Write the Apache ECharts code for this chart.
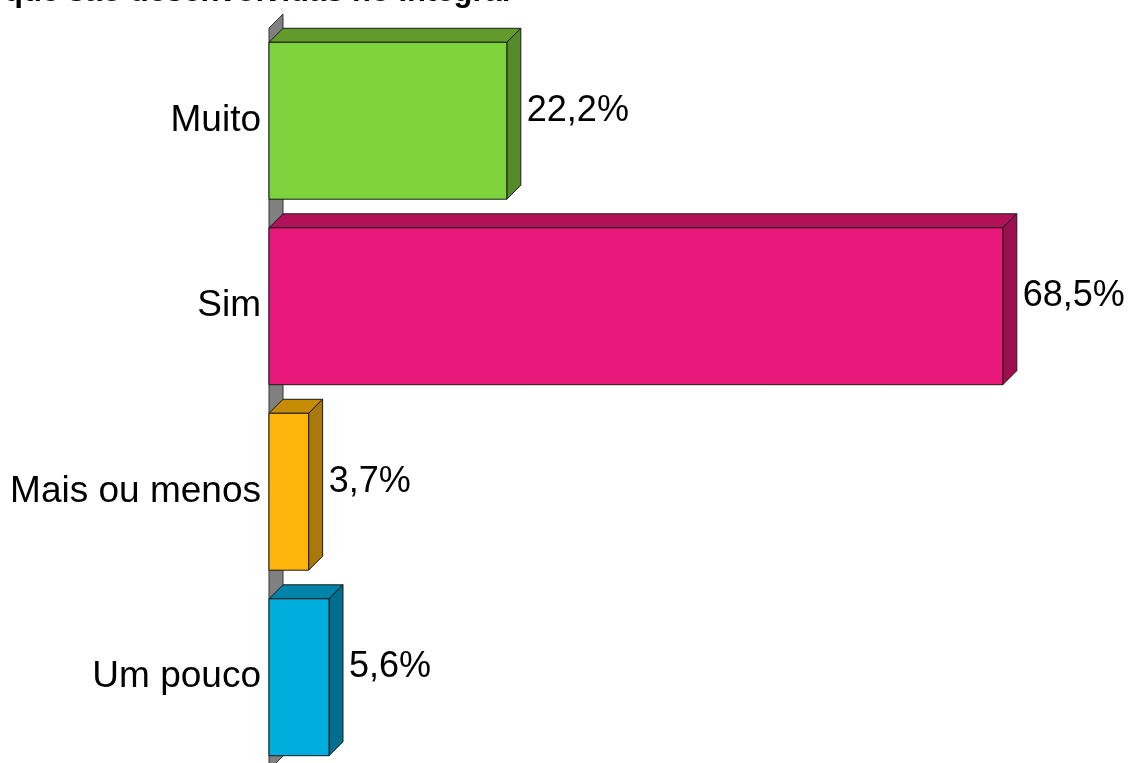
<!DOCTYPE html>
<html>
<head>
<meta charset="utf-8">
<script src="https://cdn.jsdelivr.net/npm/echarts@6/dist/echarts.min.js"></script>
<style>
html,body{margin:0;padding:0;background:#fff;}
#chart{width:1131px;height:763px;}
</style>
</head>
<body>
<div id="chart"></div>
<script>
const titleText = 'que são desenvolvidas no Integral';
const categories = ['Muito', 'Sim', 'Mais ou menos', 'Um pouco'];
const values = [22.2, 68.5, 3.7, 5.6];
const valueLabels = ['22,2%', '68,5%', '3,7%', '5,6%'];
const frontColors = ['#7ED23C', '#E8197A', '#FFB50C', '#00AEDD'];
const topColors = ['#629B2C', '#B01159', '#C58B03', '#0083A8'];
const sideColors = ['#558A2A', '#9E0F50', '#A97A0B', '#006F8E'];

const DEPTH = 14;
const FONT = 'Liberation Sans, Arial, sans-serif';

const chart = echarts.init(document.getElementById('chart'));

function renderBar(params, api) {
  const idx = api.value(1);
  const v = api.value(0);
  const p0 = api.coord([0, idx]);
  const p1 = api.coord([v, idx]);
  const band = api.size([0, 1])[1];
  const h = band * 0.846;
  const x0 = p0[0], x1 = p1[0];
  const y0 = p0[1] - h / 2;
  const d = DEPTH;
  const i = params.dataIndex;
  const stroke = { stroke: '#1a1a1a', lineWidth: 1 };
  return {
    type: 'group',
    children: [
      { type: 'polygon', shape: { points: [[x0, y0], [x0 + d, y0 - d], [x1 + d, y0 - d], [x1, y0]] },
        style: Object.assign({ fill: topColors[i] }, stroke) },
      { type: 'polygon', shape: { points: [[x1, y0], [x1 + d, y0 - d], [x1 + d, y0 + h - d], [x1, y0 + h]] },
        style: Object.assign({ fill: sideColors[i] }, stroke) },
      { type: 'rect', shape: { x: x0, y: y0, width: x1 - x0, height: h },
        style: Object.assign({ fill: frontColors[i] }, stroke) },
      { type: 'text', x: x1 + d + 6, y: p0[1] - 10,
        style: { text: valueLabels[i], fill: '#000', font: '36px ' + FONT, verticalAlign: 'middle', align: 'left' } }
    ]
  };
}

function renderWall(params, api) {
  const cs = params.coordSys;
  const d = DEPTH;
  const x = cs.x, y = cs.y, hh = cs.height;
  return {
    type: 'polygon',
    shape: { points: [[x, y], [x + d, y - d], [x + d, y + hh - d], [x, y + hh]] },
    style: { fill: '#808080', stroke: '#333', lineWidth: 1 }
  };
}

const option = {
  animation: false,
  backgroundColor: '#fff',
  graphic: [
    { type: 'text', left: 4, top: -23,
      style: { text: titleText, fill: '#000', font: 'bold 31px ' + FONT } }
  ],
  grid: { left: 269, width: 857, top: 28, height: 742, containLabel: false, outerBoundsMode: 'none' },
  xAxis: { type: 'value', min: 0, max: 80, show: false },
  yAxis: {
    type: 'category', data: categories, inverse: true,
    axisLine: { show: false }, axisTick: { show: false },
    axisLabel: { color: '#000', fontSize: 37, fontFamily: FONT, margin: 8, padding: [5, 0, 0, 0] }
  },
  series: [
    { type: 'custom', renderItem: renderWall, data: [[0, 0]], z: 1, silent: true,
      encode: { x: 0, y: 1 } },
    { type: 'custom', renderItem: renderBar, z: 2,
      data: values.map((v, i) => [v, i]), encode: { x: 0, y: 1 } }
  ]
};
chart.setOption(option);
</script>
</body>
</html>
